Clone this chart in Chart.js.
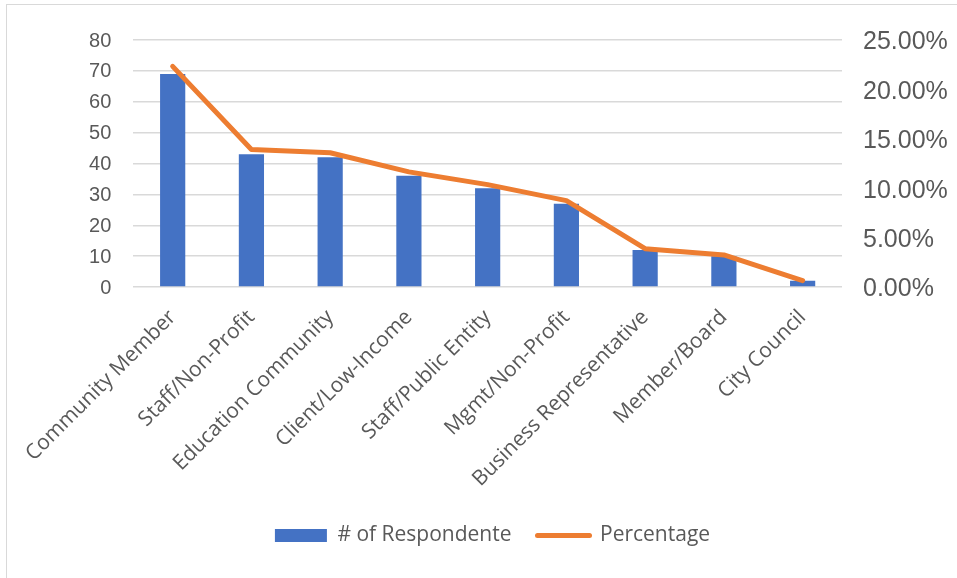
<!DOCTYPE html>
<html>
<head>
<meta charset="utf-8">
<script src="https://cdn.jsdelivr.net/npm/chart.js@4/dist/chart.umd.min.js"></script>
<style>
  html, body { margin: 0; padding: 0; background: #ffffff; overflow: hidden; }
  #frame { position: absolute; left: 6px; top: 4px; width: 2000px; height: 2000px; border: 1.5px solid #d9d9d9; }
  #wrap { position: absolute; left: 0; top: 0; width: 957px; height: 578px; }
</style>
</head>
<body>
<div id="frame"></div>
<div id="wrap"><canvas id="c" width="957" height="578"></canvas></div>
<script>
const categories = ["Community Member", "Staff/Non-Profit", "Education Community", "Client/Low-Income", "Staff/Public Entity", "Mgmt/Non-Profit", "Business Representative", "Member/Board", "City Council"];
const respondents = [69, 43, 42, 36, 32, 27, 12, 10, 2];
const percentage = [0.2233, 0.1392, 0.1359, 0.1165, 0.1036, 0.0874, 0.0388, 0.0324, 0.0065];
const leftTicks = [0, 10, 20, 30, 40, 50, 60, 70, 80];
const rightTicks = [0, 0.05, 0.10, 0.15, 0.20, 0.25];
const seriesNames = ["# of Respondente", "Percentage"];

const grey = '#595959';
const ctx = document.getElementById('c').getContext('2d');
new Chart(ctx, {
  data: {
    labels: categories,
    datasets: [
      {
        type: 'bar',
        label: seriesNames[0],
        data: respondents,
        backgroundColor: '#4472C4',
        borderWidth: 0,
        categoryPercentage: 1,
        barPercentage: 0.32,
        yAxisID: 'y',
        order: 1
      },
      {
        type: 'line',
        label: seriesNames[1],
        data: percentage,
        borderColor: '#ED7D31',
        backgroundColor: '#ED7D31',
        borderWidth: 5,
        pointRadius: 0,
        tension: 0,
        borderCapStyle: 'round',
        borderJoinStyle: 'round',
        yAxisID: 'y1',
        order: 0
      }
    ]
  },
  options: {
    responsive: false,
    animation: false,
    devicePixelRatio: 1,
    layout: { padding: { left: 28, right: 0, top: 40, bottom: 22 } },
    plugins: {
      tooltip: { enabled: false },
      legend: {
        position: 'bottom',
        labels: {
          font: { family: 'Open Sans', size: 21 },
          color: grey,
          usePointStyle: true,
          pointStyleWidth: 52,
          boxHeight: 13,
          padding: 26,
          sort: (a, b) => a.datasetIndex - b.datasetIndex,
          generateLabels: (chart) => {
            const items = Chart.defaults.plugins.legend.labels.generateLabels(chart);
            items.forEach(it => {
              if (it.datasetIndex === 0) { it.pointStyle = 'rect'; it.lineWidth = 0; it.strokeStyle = 'rgba(0,0,0,0)'; }
              else { it.pointStyle = 'line'; it.lineWidth = 5; it.lineCap = 'round'; }
            });
            return items;
          }
        }
      }
    },
    scales: {
      x: {
        type: 'category',
        offset: true,
        grid: { display: false, drawTicks: false },
        border: { display: false },
        ticks: {
          autoSkip: false,
          minRotation: 45,
          maxRotation: 45,
          padding: 18,
          color: grey,
          font: { family: 'Open Sans', size: 21 }
        },
        afterFit: (s) => { s.height = 212; }
      },
      y: {
        position: 'left',
        min: 0,
        max: 80,
        afterBuildTicks: (s) => { s.ticks = leftTicks.map(v => ({ value: v })); },
        grid: { color: '#d9d9d9', lineWidth: 1.5, drawTicks: false },
        border: { display: false },
        ticks: {
          padding: 22,
          labelOffset: 1,
          color: grey,
          font: { family: 'Liberation Sans', size: 20 }
        },
        afterFit: (s) => { s.width = 105.3; }
      },
      y1: {
        position: 'right',
        min: 0,
        max: 0.25,
        afterBuildTicks: (s) => { s.ticks = rightTicks.map(v => ({ value: v })); },
        grid: { display: false, drawTicks: false },
        border: { display: false },
        ticks: {
          padding: 21,
          labelOffset: 2.5,
          color: grey,
          font: { family: 'Liberation Sans', size: 25 },
          callback: (v) => (v * 100).toFixed(2) + '%'
        },
        afterFit: (s) => { s.width = 115; }
      }
    }
  }
});
</script>
</body>
</html>
